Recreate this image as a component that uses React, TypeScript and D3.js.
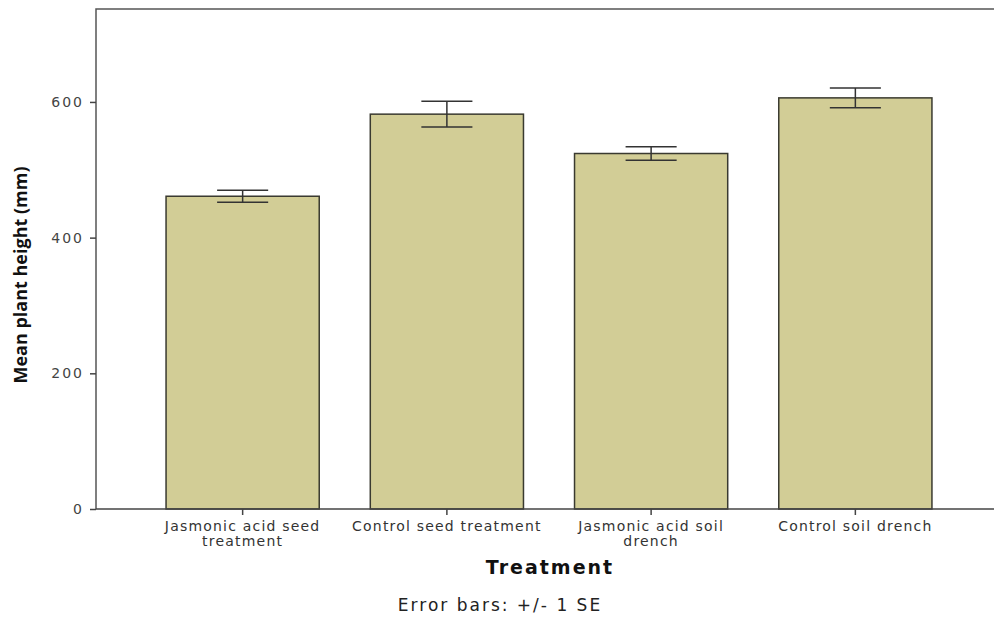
import React, { useEffect, useRef } from 'react';
import * as d3 from 'd3';

const categories = [
    ['Jasmonic acid seed', 'treatment'],
    ['Control seed treatment'],
    ['Jasmonic acid soil', 'drench'],
    ['Control soil drench'],
];
const means = [461, 582, 524, 606];
const errors = [9, 19, 10, 14.5];
const yTicks = [0, 200, 400, 600];

const W = 994;
const H = 618;
const M = { left: 96, top: 9, right: 1002, bottom: 509 };

export default function App() {
    const svgRef = useRef<SVGSVGElement>(null);

    useEffect(() => {
        if (!svgRef.current) return;
        const svg = d3.select(svgRef.current);
        svg.selectAll('*').remove();

        const x = d3.scaleBand<number>()
            .domain(means.map((_, i) => i))
            .range([M.left, M.right])
            .paddingInner(0.25)
            .paddingOuter(0.343);
        const y = d3.scaleLinear().domain([0, 737]).range([M.bottom, M.top]);

        const font = "'DejaVu Sans', sans-serif";
        const titleFont = "'Open Sans', sans-serif";

        // frame (top + left)
        svg.append('path')
            .attr('d', `M${M.left},${M.bottom}V${M.top}H${W}`)
            .attr('fill', 'none')
            .attr('stroke', '#555')
            .attr('stroke-width', 1.5);

        // bars
        svg.append('g').selectAll('rect')
            .data(means)
            .join('rect')
            .attr('x', (_, i) => x(i)!)
            .attr('y', d => y(d))
            .attr('width', x.bandwidth())
            .attr('height', d => y(0) - y(d))
            .attr('fill', '#d2cd96')
            .attr('stroke', '#3a3a30')
            .attr('stroke-width', 1.5);

        // error bars
        const cap = x.bandwidth() / 3;
        const eb = svg.append('g').attr('stroke', '#333').attr('stroke-width', 1.5).attr('fill', 'none');
        means.forEach((m, i) => {
            const cx = x(i)! + x.bandwidth() / 2;
            const lo = y(m - errors[i]);
            const hi = y(m + errors[i]);
            eb.append('path')
                .attr('d', `M${cx - cap / 2},${hi}H${cx + cap / 2}M${cx},${hi}V${lo}M${cx - cap / 2},${lo}H${cx + cap / 2}`);
        });

        // y axis
        const yAxis = svg.append('g')
            .attr('transform', `translate(${M.left},0)`)
            .call(d3.axisLeft(y).tickValues(yTicks).tickSize(6).tickPadding(6));
        yAxis.select('.domain').remove();
        yAxis.selectAll('line').attr('stroke', '#444').attr('stroke-width', 1.5);
        yAxis.selectAll('text')
            .attr('font-family', font).attr('font-size', 14)
            .attr('letter-spacing', 2).attr('fill', '#444');

        // x axis
        const xAxis = svg.append('g')
            .attr('transform', `translate(0,${M.bottom})`)
            .call(d3.axisBottom(x).tickSize(6).tickFormat(() => ''));
        xAxis.select('.domain').attr('d', `M${M.left},0H${W}`).attr('stroke', '#444').attr('stroke-width', 1.5);
        xAxis.selectAll('line').attr('stroke', '#444').attr('stroke-width', 1.5);
        xAxis.selectAll('.tick text').remove();

        categories.forEach((lines, i) => {
            const cx = x(i)! + x.bandwidth() / 2;
            const t = svg.append('text')
                .attr('text-anchor', 'middle')
                .attr('font-family', font)
                .attr('font-size', 14)
                .attr('letter-spacing', 1.2)
                .attr('fill', '#333');
            lines.forEach((l, j) => {
                t.append('tspan').attr('x', cx).attr('y', 531 + j * 14.5).text(l);
            });
        });

        svg.append('text')
            .attr('x', 550).attr('y', 574)
            .attr('text-anchor', 'middle')
            .attr('font-family', font)
            .attr('font-weight', 'bold')
            .attr('font-size', 19)
            .attr('letter-spacing', 2)
            .attr('fill', '#111')
            .text('Treatment');

        svg.append('text')
            .attr('transform', 'translate(27,275) rotate(-90)')
            .attr('text-anchor', 'middle')
            .attr('font-family', titleFont)
            .attr('font-weight', 'bold')
            .attr('font-size', 18)
            .attr('fill', '#111')
            .text('Mean plant height (mm)');

        svg.append('text')
            .attr('x', 500).attr('y', 611)
            .attr('text-anchor', 'middle')
            .attr('font-family', font)
            .attr('font-size', 17)
            .attr('letter-spacing', 2)
            .attr('fill', '#222')
            .text('Error bars: +/- 1 SE');
    }, []);

    return (
        <svg ref={svgRef} width={W} height={H}
             style={{ position: 'absolute', left: 0, top: 0, background: '#fff' }} />
    );
}
